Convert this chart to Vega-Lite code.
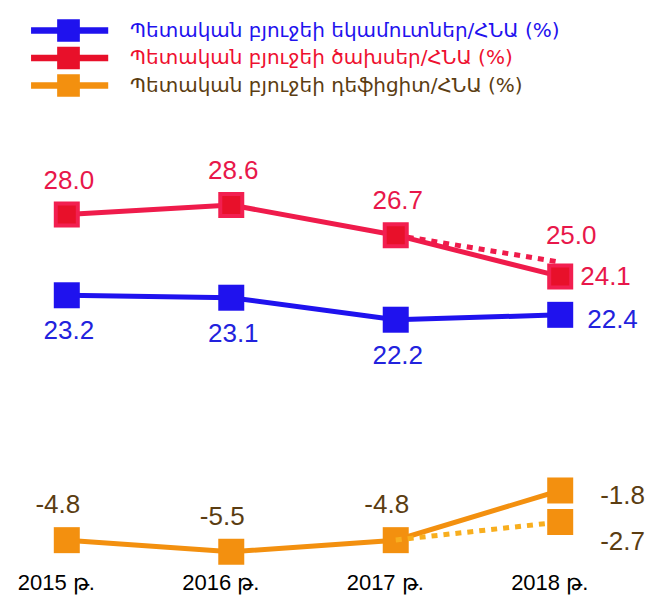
{
  "$schema": "https://vega.github.io/schema/vega-lite/v6.json",
  "width": 625,
  "height": 565,
  "autosize": {"type": "none"},
  "padding": {"left": 1, "top": 0, "right": 37, "bottom": 40},
  "background": "white",
  "config": {
    "view": {"stroke": null},
    "locale": {"number": {"decimal": ".", "thousands": ",", "grouping": [3], "currency": ["$", ""], "minus": "-"}}
  },
  "datasets": {
    "d": [
      {"year": "2015 թ.", "series": "Պետական բյուջեի եկամուտներ/ՀՆԱ (%)", "value": 23.2, "kind": "actual"},
      {"year": "2016 թ.", "series": "Պետական բյուջեի եկամուտներ/ՀՆԱ (%)", "value": 23.1, "kind": "actual"},
      {"year": "2017 թ.", "series": "Պետական բյուջեի եկամուտներ/ՀՆԱ (%)", "value": 22.2, "kind": "actual"},
      {"year": "2018 թ.", "series": "Պետական բյուջեի եկամուտներ/ՀՆԱ (%)", "value": 22.4, "kind": "actual"},
      {"year": "2015 թ.", "series": "Պետական բյուջեի ծախսեր/ՀՆԱ (%)", "value": 28.0, "kind": "actual"},
      {"year": "2016 թ.", "series": "Պետական բյուջեի ծախսեր/ՀՆԱ (%)", "value": 28.6, "kind": "actual"},
      {"year": "2017 թ.", "series": "Պետական բյուջեի ծախսեր/ՀՆԱ (%)", "value": 26.7, "kind": "actual"},
      {"year": "2018 թ.", "series": "Պետական բյուջեի ծախսեր/ՀՆԱ (%)", "value": 24.1, "kind": "actual"},
      {"year": "2018 թ.", "series": "Պետական բյուջեի ծախսեր/ՀՆԱ (%)", "value": 25.0, "kind": "plan"},
      {"year": "2015 թ.", "series": "Պետական բյուջեի դեֆիցիտ/ՀՆԱ (%)", "value": -4.8, "kind": "actual"},
      {"year": "2016 թ.", "series": "Պետական բյուջեի դեֆիցիտ/ՀՆԱ (%)", "value": -5.5, "kind": "actual"},
      {"year": "2017 թ.", "series": "Պետական բյուջեի դեֆիցիտ/ՀՆԱ (%)", "value": -4.8, "kind": "actual"},
      {"year": "2018 թ.", "series": "Պետական բյուջեի դեֆիցիտ/ՀՆԱ (%)", "value": -1.8, "kind": "actual"},
      {"year": "2018 թ.", "series": "Պետական բյուջեի դեֆիցիտ/ՀՆԱ (%)", "value": -2.7, "kind": "plan"}
    ]
  },
  "data": {"name": "d"},
  "encoding": {
    "x": {
      "field": "year",
      "type": "ordinal",
      "scale": {"type": "point", "padding": 0.4},
      "axis": {
        "title": null,
        "domain": false,
        "ticks": false,
        "grid": false,
        "labelAngle": 0,
        "labelFont": "Liberation Sans",
        "labelFontWeight": "normal",
        "labelFontSize": 22,
        "labelColor": "#000000",
        "labelPadding": 7,
        "labelOffset": -11
      }
    }
  },
  "layer": [
    {
      "transform": [{"filter": "datum.series == 'Պետական բյուջեի ծախսեր/ՀՆԱ (%)'"}],
      "encoding": {
        "y": {"field": "value", "type": "quantitative", "scale": {"domain": [5.89, 41.54], "nice": false, "zero": false}, "axis": null}
      },
      "layer": [
        {
          "transform": [{"filter": "datum.kind == 'plan' || datum.year == '2017 թ.'"}],
          "mark": {"type": "line", "color": "#ef1b4b", "strokeWidth": 5, "strokeDash": [6, 6]}
        },
        {
          "transform": [{"filter": "datum.kind == 'actual'"}],
          "mark": {"type": "line", "color": "#ef1b4b", "strokeWidth": 5}
        },
        {
          "transform": [{"filter": "datum.kind == 'actual'"}],
          "mark": {"type": "point", "shape": "square", "filled": true, "size": 484, "opacity": 1, "stroke": "#f21f50", "strokeWidth": 4},
          "encoding": {
            "color": {
              "field": "series",
              "type": "nominal",
              "scale": {
                "domain": ["Պետական բյուջեի եկամուտներ/ՀՆԱ (%)", "Պետական բյուջեի ծախսեր/ՀՆԱ (%)", "Պետական բյուջեի դեֆիցիտ/ՀՆԱ (%)"],
                "range": ["#1f12ee", "#e8102a", "#f3900f"]
              },
              "legend": {
                "title": null,
                "orient": "none",
                "legendX": 56,
                "legendY": 19,
                "padding": 0,
                "direction": "vertical",
                "symbolType": "M-3.3,-0.28H3.5V0.28H-3.3Z M-1,-1H1V1H-1Z",
                "symbolSize": 515,
                "symbolStrokeWidth": 0,
                "symbolOpacity": 1,
                "labelFont": "DejaVu Sans",
                "labelFontSize": 20,
                "labelOffset": 50,
                "labelLimit": 600,
                "rowPadding": 4.5,
                "labelColor": {"expr": "datum.index == 0 ? '#1f12ee' : datum.index == 1 ? '#ee1030' : '#5b3d12'"}
              }
            }
          }
        },
        {
          "transform": [{"filter": "datum.kind == 'actual' && datum.year != '2018 թ.'"}],
          "mark": {"type": "text", "font": "Liberation Sans", "fontSize": 26, "color": "#e8174a", "baseline": "middle", "align": "center", "dy": -34, "dx": 2},
          "encoding": {"text": {"field": "value", "type": "quantitative", "format": ".1f"}}
        },
        {
          "transform": [{"filter": "datum.kind == 'actual' && datum.year == '2018 թ.'"}],
          "mark": {"type": "text", "font": "Liberation Sans", "fontSize": 26, "color": "#e8174a", "baseline": "middle", "align": "left", "dx": 20, "dy": 1},
          "encoding": {"text": {"field": "value", "type": "quantitative", "format": ".1f"}}
        },
        {
          "transform": [{"filter": "datum.kind == 'plan'"}],
          "mark": {"type": "text", "font": "Liberation Sans", "fontSize": 26, "color": "#e8174a", "baseline": "middle", "align": "center", "dx": 11, "dy": -26},
          "encoding": {"text": {"field": "value", "type": "quantitative", "format": ".1f"}}
        }
      ]
    },
    {
      "transform": [{"filter": "datum.series == 'Պետական բյուջեի եկամուտներ/ՀՆԱ (%)'"}],
      "encoding": {
        "y": {"field": "value", "type": "quantitative", "scale": {"domain": [12.165, 35.28], "nice": false, "zero": false}, "axis": null}
      },
      "layer": [
        {
          "mark": {"type": "line", "color": "#1f12ee", "strokeWidth": 5}
        },
        {
          "mark": {"type": "point", "shape": "square", "filled": true, "size": 676, "opacity": 1},
          "encoding": {
            "color": {"field": "series", "type": "nominal"}
          }
        },
        {
          "transform": [{"filter": "datum.year != '2018 թ.'"}],
          "mark": {"type": "text", "font": "Liberation Sans", "fontSize": 26, "color": "#2222dd", "baseline": "middle", "align": "center", "dy": 36, "dx": 2},
          "encoding": {"text": {"field": "value", "type": "quantitative", "format": ".1f"}}
        },
        {
          "transform": [{"filter": "datum.year == '2018 թ.'"}],
          "mark": {"type": "text", "font": "Liberation Sans", "fontSize": 26, "color": "#2222dd", "baseline": "middle", "align": "left", "dx": 27, "dy": 5},
          "encoding": {"text": {"field": "value", "type": "quantitative", "format": ".1f"}}
        }
      ]
    },
    {
      "transform": [{"filter": "datum.series == 'Պետական բյուջեի դեֆիցիտ/ՀՆԱ (%)' && datum.kind == 'actual'"}],
      "encoding": {
        "y": {"field": "value", "type": "quantitative", "scale": {"domain": [-6.30, 27.82], "nice": false, "zero": false}, "axis": null}
      },
      "layer": [
        {
          "mark": {"type": "line", "color": "#f3900f", "strokeWidth": 5}
        },
        {
          "mark": {"type": "point", "shape": "square", "filled": true, "size": 676, "opacity": 1},
          "encoding": {
            "color": {"field": "series", "type": "nominal"}
          }
        },
        {
          "transform": [{"filter": "datum.year != '2018 թ.'"}],
          "mark": {"type": "text", "font": "Liberation Sans", "fontSize": 26, "color": "#5b3d12", "baseline": "middle", "align": "center", "dy": -35, "dx": -9},
          "encoding": {"text": {"field": "value", "type": "quantitative", "format": ".1f"}}
        },
        {
          "transform": [{"filter": "datum.year == '2018 թ.'"}],
          "mark": {"type": "text", "font": "Liberation Sans", "fontSize": 26, "color": "#5b3d12", "baseline": "middle", "align": "left", "dx": 40, "dy": 6},
          "encoding": {"text": {"field": "value", "type": "quantitative", "format": ".1f"}}
        }
      ]
    },
    {
      "transform": [{"filter": "datum.series == 'Պետական բյուջեի դեֆիցիտ/ՀՆԱ (%)' && (datum.kind == 'plan' || datum.year == '2017 թ.')"}],
      "encoding": {
        "y": {"field": "value", "type": "quantitative", "scale": {"domain": [-7.72, 58.21], "nice": false, "zero": false}, "axis": null}
      },
      "layer": [
        {
          "mark": {"type": "line", "color": "#f8ae1e", "strokeWidth": 5, "strokeDash": [6, 6]}
        },
        {
          "transform": [{"filter": "datum.kind == 'plan'"}],
          "mark": {"type": "point", "shape": "square", "filled": true, "size": 676, "opacity": 1},
          "encoding": {
            "color": {"field": "series", "type": "nominal"}
          }
        },
        {
          "transform": [{"filter": "datum.kind == 'plan'"}],
          "mark": {"type": "text", "font": "Liberation Sans", "fontSize": 26, "color": "#5b3d12", "baseline": "middle", "align": "left", "dx": 40, "dy": 20},
          "encoding": {"text": {"field": "value", "type": "quantitative", "format": ".1f"}}
        }
      ]
    }
  ],
  "resolve": {"scale": {"y": "independent"}}
}
